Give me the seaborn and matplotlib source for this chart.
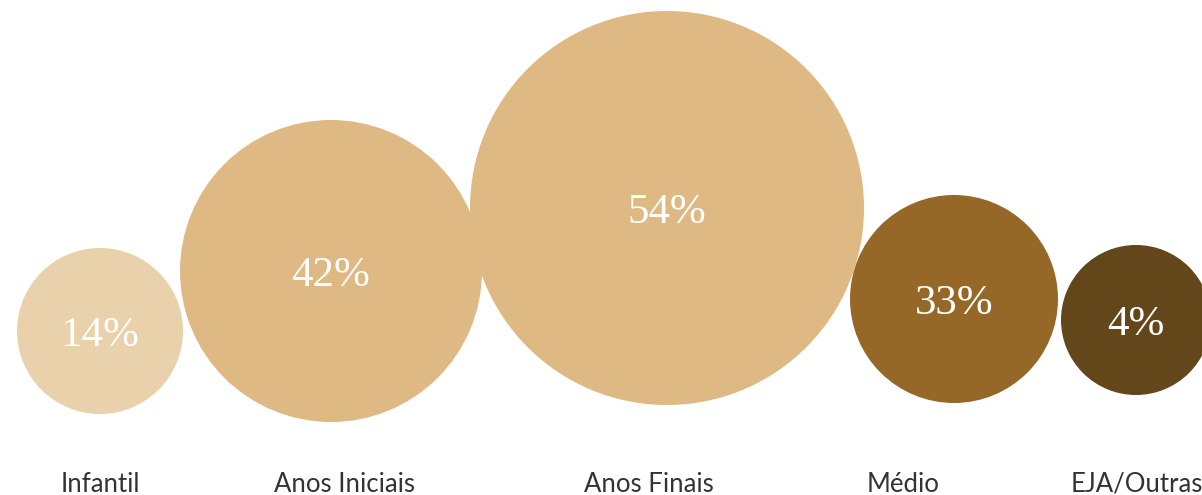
import pandas as pd
import matplotlib.pyplot as plt
import seaborn as sns

sns.set_theme(style="white")

# Data
categories = ['Infantil', 'Anos Iniciais', 'Anos Finais', 'Médio', 'EJA/Outras']
shares = [14, 42, 54, 33, 4]
bubble_x = [100, 331, 667, 954, 1136]
bubble_y = [331, 271, 208, 299, 320]
bubble_radius = [83, 151, 197, 104, 75]
label_x = [100, 344, 649, 903, 1137]
colors = ['#E9D1AB', '#DEB983', '#DEB983', '#956828', '#634619']

df = pd.DataFrame({'Etapa': categories, 'Share': shares,
                   'x': bubble_x, 'y': bubble_y, 'r': bubble_radius,
                   'lx': label_x})

W, H, DPI = 1202, 495, 100
fig = plt.figure(figsize=(W / DPI, H / DPI), dpi=DPI)
ax = fig.add_axes([0, 0, 1, 1])
ax.set_xlim(0, W)
ax.set_ylim(H, 0)

# marker area in points^2 from radius in pixels
sizes = {c: (2 * r * 72 / DPI) ** 2 for c, r in zip(categories, bubble_radius)}

sns.scatterplot(data=df, x='x', y='y', hue='Etapa', palette=colors,
                size='Etapa', sizes=sizes, linewidth=0, alpha=1,
                legend=False, ax=ax)

for _, row in df.iterrows():
    ax.text(row['x'], row['y'] + 5, f"{row['Share']}%", color='white',
            fontsize=31, family='Liberation Serif', ha='center', va='center')
    ax.text(row['lx'], 484, row['Etapa'], color='#333333', fontsize=18.5,
            family='Lato', ha='center', va='center')

ax.set_axis_off()
fig.savefig('out.png', dpi=DPI, facecolor='white')
